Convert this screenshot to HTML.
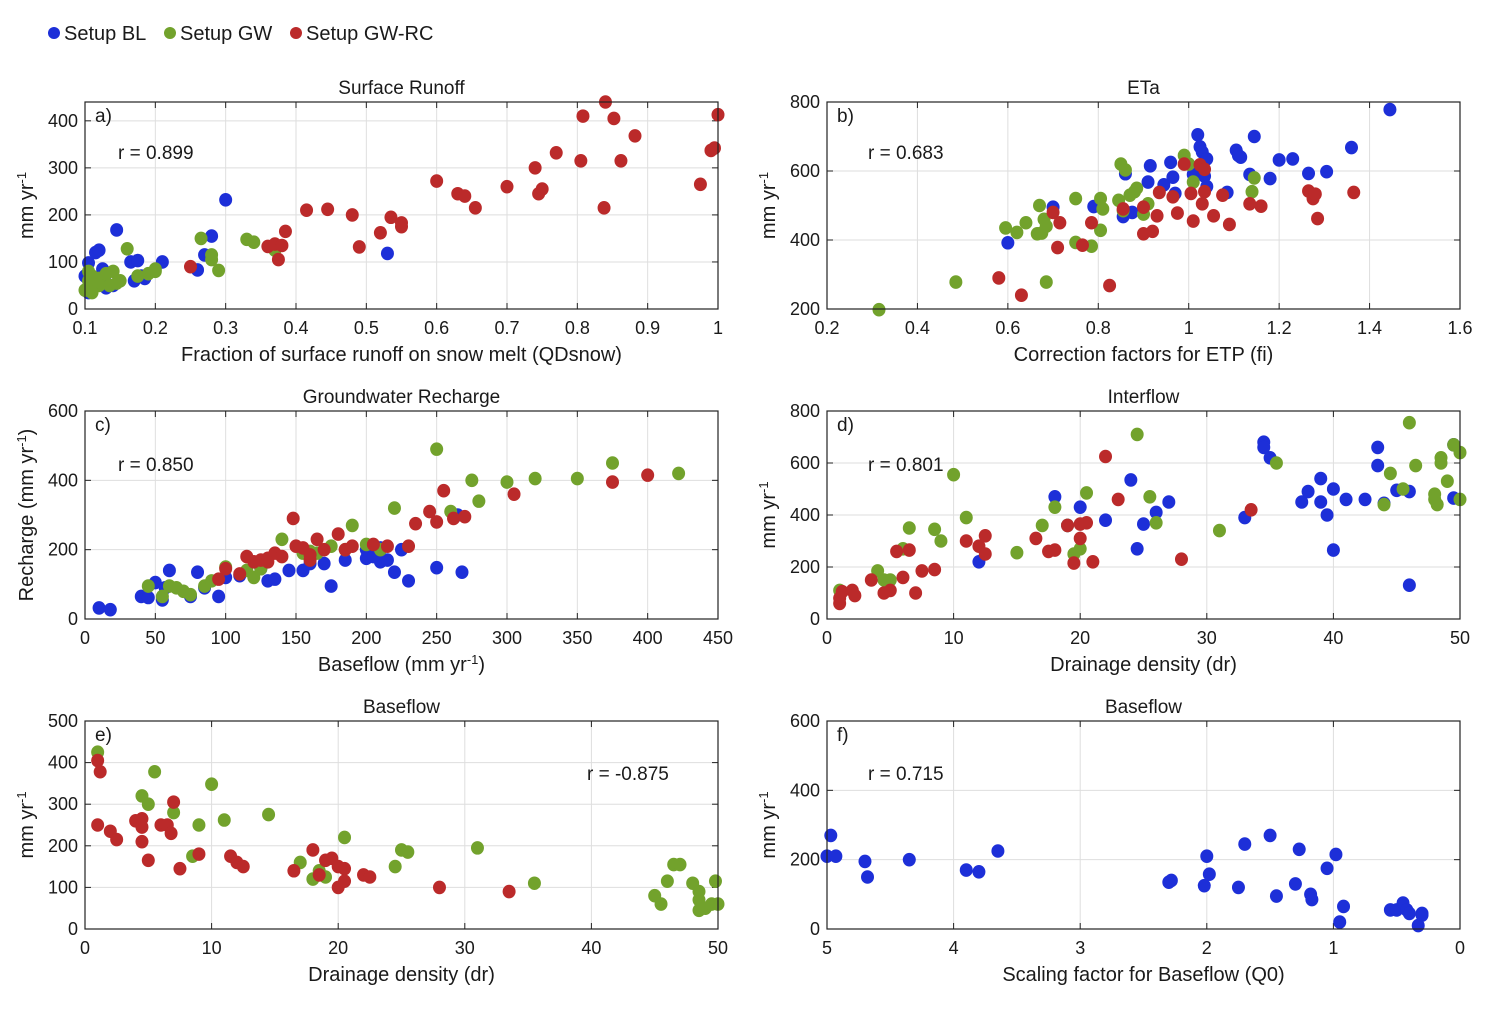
<!DOCTYPE html>
<html><head><meta charset="utf-8"><style>
body{margin:0;background:#fff;}
svg{display:block;font-family:"Liberation Sans",Arial,sans-serif;}
</style></head><body>
<svg id="c" width="1494" height="1009"></svg>
<script>
// Panel a: Surface Runoff
const aBLx=[0.1,0.105,0.11,0.105,0.11,0.115,0.12,0.125,0.13,0.14,0.145,0.165,0.17,0.175,0.18,0.185,0.21,0.26,0.28,0.27,0.3,0.53,0.12,0.13];
const aBLy=[70,98,50,35,40,120,125,85,55,50,168,100,60,103,70,65,100,83,155,115,232,118,60,45];
const aGWx=[0.1,0.105,0.105,0.11,0.11,0.115,0.12,0.13,0.135,0.14,0.145,0.15,0.16,0.175,0.19,0.2,0.2,0.265,0.28,0.28,0.29,0.33,0.34,0.37,0.12,0.11];
const aGWy=[40,60,80,70,45,55,65,75,50,80,55,60,128,70,75,85,80,150,115,105,82,148,142,125,50,35];
const aRCx=[0.25,0.36,0.37,0.375,0.38,0.385,0.415,0.445,0.48,0.49,0.52,0.535,0.55,0.55,0.6,0.63,0.64,0.655,0.7,0.74,0.745,0.75,0.77,0.805,0.808,0.84,0.838,0.852,0.862,0.882,0.975,0.99,0.995,1.0];
const aRCy=[90,133,138,105,135,165,210,212,200,132,162,195,175,183,272,245,240,215,260,300,245,255,332,315,410,440,215,405,315,368,265,337,342,413];
// Panel b: ETa
const bBLx=[0.6,0.7,0.79,0.855,0.86,0.875,0.91,0.915,0.945,0.96,0.965,0.97,1.01,1.02,1.025,1.03,1.035,1.04,1.04,1.085,1.105,1.11,1.115,1.135,1.145,1.18,1.2,1.23,1.265,1.305,1.36,1.445];
const bBLy=[392,495,497,468,592,480,568,615,560,625,582,535,590,705,670,655,585,555,635,538,660,645,640,590,700,578,632,635,593,598,668,778];
const bGWx=[0.315,0.485,0.595,0.62,0.64,0.67,0.665,0.675,0.68,0.685,0.685,0.75,0.75,0.785,0.805,0.805,0.81,0.845,0.85,0.86,0.855,0.87,0.88,0.885,0.9,0.91,0.99,1.0,1.01,1.14,1.145];
const bGWy=[198,278,435,422,450,500,418,420,460,440,278,520,393,382,520,428,490,515,620,603,485,530,540,550,475,505,645,620,568,540,580];
const bRCx=[0.58,0.63,0.7,0.71,0.715,0.765,0.785,0.825,0.855,0.9,0.9,0.92,0.93,0.935,0.965,0.975,0.99,1.005,1.01,1.025,1.03,1.035,1.035,1.055,1.075,1.09,1.135,1.16,1.265,1.275,1.28,1.285,1.365];
const bRCy=[290,240,480,378,450,385,450,268,490,418,495,425,470,538,525,478,620,535,455,618,505,540,605,470,530,445,505,498,542,520,533,462,538];
// Panel c: Groundwater Recharge
const cBLx=[10,18,40,45,50,55,57,60,75,80,85,95,100,110,125,130,135,145,155,160,170,175,185,200,200,210,215,220,225,230,250,265,268,205,210];
const cBLy=[32,27,65,62,105,55,90,140,65,135,90,65,120,125,145,110,115,140,140,160,160,95,170,175,200,165,170,135,200,110,148,300,135,180,205];
const cGWx=[45,55,65,70,60,75,85,90,100,115,120,125,140,155,165,175,185,190,200,210,220,250,275,280,300,320,350,375,422,260,160];
const cGWy=[95,65,90,80,95,70,95,110,150,140,120,145,230,190,190,210,200,270,215,200,320,490,400,340,395,405,405,450,420,310,195];
const cRCx=[95,100,110,115,120,125,130,135,140,148,150,155,160,165,170,180,185,190,205,215,230,235,245,250,255,262,270,305,375,400,160,130];
const cRCy=[115,145,130,180,165,170,175,190,180,290,210,205,170,230,200,245,200,210,215,210,210,275,310,280,370,290,295,360,395,415,185,165];
// Panel d: Interflow
const dBLx=[12,18,19,20,24,24.5,25,26,27,22,34.5,34.5,35,33,37.5,38,39,39,39.5,40,40,41,42.5,43.5,43.5,44,45,46,46,49.5,49.5];
const dBLy=[220,470,360,430,535,270,365,410,450,380,680,660,620,390,450,490,540,450,400,500,265,460,460,660,590,445,495,130,490,670,465];
const dGWx=[1,4,4.5,5,6,6.5,8.5,9,10,11,15,17,18,19,19.5,20.5,24.5,25.5,26,31,35.5,44,44.5,45.5,46,46.5,48,48.5,48.5,49,49.5,50,50,48.2,48,20];
const dGWy=[110,185,150,150,270,350,345,300,555,390,255,360,430,360,250,485,710,470,370,340,600,440,560,500,755,590,460,620,600,530,670,640,460,440,480,270];
const dRCx=[1,1,1.2,2,2.2,3.5,4.5,5,5.5,6,6.5,7,7.5,8.5,11,12,12.5,12.5,16.5,17.5,18,19,19.5,20,20,21,20.5,22,23,28,33.5];
const dRCy=[60,80,105,110,90,150,100,110,260,160,265,100,185,190,300,280,320,250,310,260,265,360,215,310,365,220,370,625,460,230,420];
// Panel e: Baseflow vs drainage density
const eGWx=[1,4.5,5,5.5,7,8.5,9,10,11,14.5,17,18,18.5,19,20.5,25,25.5,24.5,31,35.5,45,45.5,46,46.5,47,48,48.5,48.5,49,49.5,49.8,50,48.5];
const eGWy=[425,320,300,378,280,175,250,348,262,275,160,120,140,125,220,190,185,150,195,110,80,60,115,155,155,110,70,45,50,60,115,60,90];
const eRCx=[1,1.2,1,2,2.5,4,4.5,4.5,4.5,5,6,6.5,7,6.8,7.5,9,11.5,12,12.5,16.5,18,19,19.5,20,20.5,20,20.5,22,22.5,28,33.5,18.5];
const eRCy=[405,378,250,235,215,260,245,265,210,165,250,250,305,230,145,180,175,160,150,140,190,165,170,150,145,100,115,130,125,100,90,130];
// Panel f: Baseflow vs Q0
const fBLx=[4.97,5,4.93,4.7,4.68,4.35,3.9,3.8,3.65,2.3,2.28,2.02,2.0,1.98,1.75,1.7,1.5,1.45,1.3,1.27,1.18,1.17,1.05,0.98,0.95,0.92,0.55,0.5,0.45,0.42,0.4,0.3,0.3,0.33];
const fBLy=[270,210,210,195,150,200,170,165,225,135,140,125,210,158,120,245,270,95,130,230,100,85,175,215,20,65,55,55,75,55,45,45,40,10];

const aXt=[0.1,0.2,0.3,0.4,0.5,0.6,0.7,0.8,0.9,1], aYt=[0,100,200,300,400];
const bXt=[0.2,0.4,0.6,0.8,1,1.2,1.4,1.6], bYt=[200,400,600,800];
const cXt=[0,50,100,150,200,250,300,350,400,450], cYt=[0,200,400,600];
const dXt=[0,10,20,30,40,50], dYt=[0,200,400,600,800];
const eXt=[0,10,20,30,40,50], eYt=[0,100,200,300,400,500];
const fXt=[5,4,3,2,1,0], fYt=[0,200,400,600];

const BLUE='#1d2fd8', GREEN='#72a22c', RED='#bb2a2a';
const svg=document.getElementById('c');
const NS='http://www.w3.org/2000/svg';
function mk(tag,attrs,parent){const e=document.createElementNS(NS,tag);for(const k in attrs)e.setAttribute(k,attrs[k]);(parent||svg).appendChild(e);return e;}
function txt(s,x,y,size,anchor,parent,rot){const t=mk('text',{x:x,y:y,'font-size':size,'text-anchor':anchor||'middle',fill:'#1a1a1a'},parent);if(rot)t.setAttribute('transform','rotate(-90 '+x+' '+y+')');t.innerHTML=s;return t;}

function panel(o){
  const g=mk('g',{});
  
  
  const L=o.L,R=o.R,T=o.T,B=o.B;
  const sx=v=>L+(v-o.x0)/(o.x1-o.x0)*(R-L);
  const sy=v=>B-(v-o.y0)/(o.y1-o.y0)*(B-T);
  o.xt.forEach(v=>{const x=sx(v);const ln=mk('line',{x1:x,x2:x,y1:T,y2:B,stroke:'#dedede','stroke-width':1},g);
    mk('line',{x1:x,x2:x,y1:B,y2:B-6,stroke:'#222'},g);mk('line',{x1:x,x2:x,y1:T,y2:T+6,stroke:'#222'},g);
    const t=txt(String(v),x,B+25,18,'middle',g);});
  o.yt.forEach(v=>{const y=sy(v);const ln=mk('line',{x1:L,x2:R,y1:y,y2:y,stroke:'#dedede','stroke-width':1},g);
    mk('line',{x1:L,x2:L+6,y1:y,y2:y,stroke:'#222'},g);mk('line',{x1:R,x2:R-6,y1:y,y2:y,stroke:'#222'},g);
    const t=txt(String(v),L-7,y+6,18,'end',g);});
  o.series.forEach(s=>{s.x.forEach((xv,i)=>{const c=mk('ellipse',{cx:sx(xv),cy:sy(s.y[i]),rx:6.5,ry:6.8,fill:s.c},g);
    });});
  const box=mk('rect',{x:L,y:T,width:R-L,height:B-T,fill:'none',stroke:'#222','stroke-width':1.2},g);
  
  let t=txt(o.title,(L+R)/2,T-8,19,'middle',g);
  t=txt(o.xl,(L+R)/2,B+52,20,'middle',g);
  t=txt(o.yl,L-52,(T+B)/2,20,'middle',g,true);
  t=txt(o.lab,L+10,T+20,19,'start',g);
  t=txt(o.r,o.rx,o.ry,19,'start',g);
}
const MM='mm yr<tspan dy="-7" font-size="13">-1</tspan>';
const rows=[[102,309],[411,619],[721,929]];
panel({name:'panel-a-surface-runoff',L:85,R:718,T:rows[0][0],B:rows[0][1],x0:0.1,x1:1,y0:0,y1:440,xt:aXt,yt:aYt,title:'Surface Runoff',xl:'Fraction of surface runoff on snow melt (QDsnow)',yl:MM,lab:'a)',r:'r = 0.899',rx:118,ry:159,
  series:[{x:aBLx,y:aBLy,c:BLUE,n:'bl'},{x:aGWx,y:aGWy,c:GREEN,n:'gw'},{x:aRCx,y:aRCy,c:RED,n:'gwrc'}]});
panel({name:'panel-b-eta',L:827,R:1460,T:rows[0][0],B:rows[0][1],x0:0.2,x1:1.6,y0:200,y1:800,xt:bXt,yt:bYt,title:'ETa',xl:'Correction factors for ETP (fi)',yl:MM,lab:'b)',r:'r = 0.683',rx:868,ry:159,
  series:[{x:bBLx,y:bBLy,c:BLUE,n:'bl'},{x:bGWx,y:bGWy,c:GREEN,n:'gw'},{x:bRCx,y:bRCy,c:RED,n:'gwrc'}]});
panel({name:'panel-c-recharge',L:85,R:718,T:rows[1][0],B:rows[1][1],x0:0,x1:450,y0:0,y1:600,xt:cXt,yt:cYt,title:'Groundwater Recharge',xl:'Baseflow (mm yr<tspan dy="-7" font-size="13">-1</tspan><tspan dy="7">)</tspan>',yl:'Recharge (mm yr<tspan dy="-7" font-size="13">-1</tspan><tspan dy="7">)</tspan>',lab:'c)',r:'r = 0.850',rx:118,ry:471,
  series:[{x:cBLx,y:cBLy,c:BLUE,n:'bl'},{x:cGWx,y:cGWy,c:GREEN,n:'gw'},{x:cRCx,y:cRCy,c:RED,n:'gwrc'}]});
panel({name:'panel-d-interflow',L:827,R:1460,T:rows[1][0],B:rows[1][1],x0:0,x1:50,y0:0,y1:800,xt:dXt,yt:dYt,title:'Interflow',xl:'Drainage density (dr)',yl:MM,lab:'d)',r:'r = 0.801',rx:868,ry:471,
  series:[{x:dBLx,y:dBLy,c:BLUE,n:'bl'},{x:dGWx,y:dGWy,c:GREEN,n:'gw'},{x:dRCx,y:dRCy,c:RED,n:'gwrc'}]});
panel({name:'panel-e-baseflow-dr',L:85,R:718,T:rows[2][0],B:rows[2][1],x0:0,x1:50,y0:0,y1:500,xt:eXt,yt:eYt,title:'Baseflow',xl:'Drainage density (dr)',yl:MM,lab:'e)',r:'r = -0.875',rx:587,ry:780,
  series:[{x:eGWx,y:eGWy,c:GREEN,n:'gw'},{x:eRCx,y:eRCy,c:RED,n:'gwrc'}]});
panel({name:'panel-f-baseflow-q0',L:827,R:1460,T:rows[2][0],B:rows[2][1],x0:5,x1:0,y0:0,y1:600,xt:fXt,yt:fYt,title:'Baseflow',xl:'Scaling factor for Baseflow (Q0)',yl:MM,lab:'f)',r:'r = 0.715',rx:868,ry:780,
  series:[{x:fBLx,y:fBLy,c:BLUE,n:'bl'}]});

// legend
const lg=mk('g',{});


[['Setup BL',BLUE,54],['Setup GW',GREEN,170],['Setup GW-RC',RED,296]].forEach(e=>{
  const d=mk('circle',{cx:e[2],cy:33,r:6,fill:e[1]},lg);
  
  
  const t=txt(e[0],e[2]+10,40,20,'start',lg);
  
  
});
</script>
</body></html>
